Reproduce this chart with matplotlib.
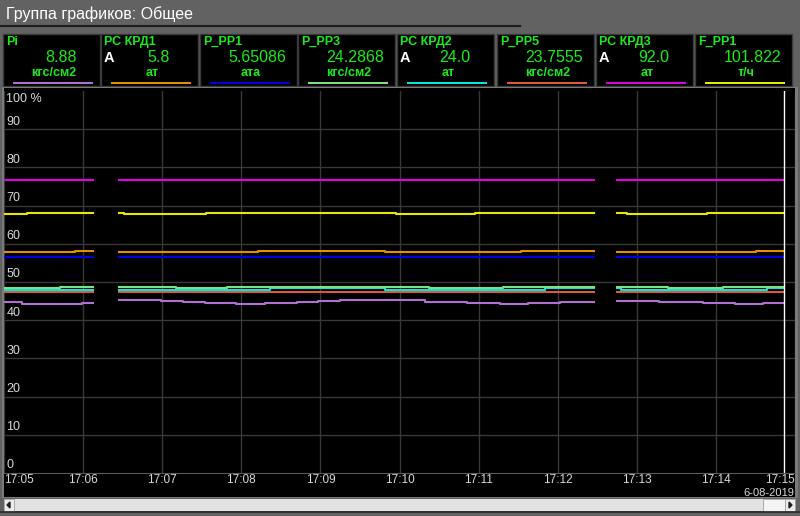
import numpy as np
import matplotlib.pyplot as plt
from matplotlib.patches import Rectangle

plt.rcParams['font.family'] = ['Liberation Sans', 'DejaVu Sans']

nan = np.nan

# Панели параметров
names = ['Pi', 'РС КРД1', 'P_PP1', 'P_PP3', 'РС КРД2', 'P_PP5', 'РС КРД3', 'F_PP1']
values_txt = ['8.88', '5.8', '5.65086', '24.2868', '24.0', '23.7555', '92.0', '101.822']
units = ['кгс/см2', 'ат', 'ата', 'кгс/см2', 'ат', 'кгс/см2', 'ат', 'т/ч']
auto = [False, True, False, False, True, False, True, False]
colors = ['#b070d0', '#e09000', '#0000e0', '#80e080', '#00e8e0', '#e05838', '#e000e0', '#e8e800']

# Время в минутах от 17:05, значения в % шкалы (ступеньки, nan = разрыв)
t_pi = [0, 0.23, 0.64, 0.99, 1.12,
        1.45, 1.98, 2.26, 2.54, 2.93, 3.30, 3.70, 3.97, 4.25, 5.32, 5.60, 5.85, 6.27, 6.62, 7.03, 7.29, 7.46,
        7.75, 8.28, 8.57, 8.84, 9.24, 9.60, 9.85]
v_pi = [44.7, 44.3, 44.2, 44.4, nan,
        45.2, 44.95, 44.7, 44.4, 44.2, 44.4, 44.7, 44.95, 45.2, 44.85, 44.7, 44.4, 44.25, 44.4, 44.7, 44.85, nan,
        45.1, 44.85, 44.7, 44.5, 44.3, 44.5, 44.5]

t_krd1 = [0, 0.90, 1.12, 1.45, 3.21, 4.82, 6.54, 7.46, 7.75, 9.51, 9.85]
v_krd1 = [57.93, 58.2, nan, 57.93, 58.2, 57.93, 58.2, nan, 57.93, 58.2, 58.2]

t_pp1 = [0, 1.12, 1.45, 7.46, 7.75, 9.85]
v_pp1 = [56.6, nan, 56.6, nan, 56.6, 56.6]

t_pp3 = [0, 0.71, 1.12, 1.45, 2.17, 2.82, 5.37, 6.31, 7.46, 7.75, 8.39, 9.09, 9.85]
v_pp3 = [48.3, 48.6, nan, 48.6, 48.3, 48.6, 48.3, 48.6, nan, 48.6, 48.3, 48.6, 48.6]

t_krd2 = [0, 1.12, 1.45, 3.36, 4.82, 6.84, 7.46, 7.75, 7.80, 9.65, 9.85]
v_krd2 = [48.0, nan, 48.0, 48.3, 48.0, 48.3, nan, 48.3, 48.0, 48.3, 48.3]

t_pp5 = [0, 1.12, 1.45, 7.46, 7.75, 9.85]
v_pp5 = [47.5, nan, 47.5, nan, 47.5, 47.5]

t_krd3 = [0, 1.12, 1.45, 7.46, 7.75, 9.85]
v_krd3 = [76.8, nan, 76.8, nan, 76.8, 76.8]

t_fpp1 = [0, 0.29, 1.12, 1.45, 1.52, 2.55, 4.96, 5.95, 7.46, 7.75, 7.87, 8.89, 9.85]
v_fpp1 = [67.8, 68.06, nan, 68.06, 67.8, 68.06, 67.8, 68.06, nan, 68.06, 67.8, 68.06, 68.06]

time_labels = ['17:05', '17:06', '17:07', '17:08', '17:09', '17:10',
               '17:11', '17:12', '17:13', '17:14', '17:15']
date_label = '6-08-2019'
cursor_t = 9.86

W, H = 800, 516
fig = plt.figure(figsize=(8, 5.16), dpi=100)
fig.patch.set_facecolor('#626262')

# фон и "окно" в пикселях
bg = fig.add_axes([0, 0, 1, 1])
bg.set_xlim(0, W)
bg.set_ylim(H, 0)
bg.axis('off')

bg.text(6, 14, 'Группа графиков: Общее', color='white', fontsize=11.5, va='center')
bg.plot([0, 520], [25.5, 25.5], color='#1c1c1c', lw=1.5)

green = '#18ec18'
px = [3, 101, 200, 298, 397, 497, 596, 695]
for i in range(len(names)):
    x0 = px[i]
    bg.add_patch(Rectangle((x0, 33.5), 97, 52, facecolor='black', edgecolor='#3a3a3a', lw=1))
    bg.text(x0 + 3, 42, names[i], color=green, fontsize=9, fontweight='bold', va='center')
    bg.text(x0 + 57.5, 57.5, values_txt[i], color=green, fontsize=11.5, ha='center', va='center')
    if auto[i]:
        bg.text(x0 + 3, 58, 'A', color='white', fontsize=10.5, fontweight='bold', va='center')
    bg.text(x0 + 51, 72.5, units[i], color=green, fontsize=9, fontweight='bold', ha='center', va='center')
    bg.add_patch(Rectangle((x0 + 10, 81.5), 80, 2.5, facecolor=colors[i], lw=0))

# область графика
bg.add_patch(Rectangle((1.5, 87), 796, 411, facecolor='#7a7a7a', lw=0))
bg.add_patch(Rectangle((4, 88), 791, 409, facecolor='black', lw=0))
bg.text(794, 492.5, date_label, color='#d8d8d8', fontsize=8, ha='right', va='center')
# полоса прокрутки
bg.add_patch(Rectangle((4, 499), 791, 12, facecolor='#e2e2e2', lw=0))
bg.add_patch(Rectangle((4, 499), 10, 12, facecolor='#ececec', edgecolor='#a0a0a0', lw=0.6))
bg.add_patch(Rectangle((763, 499), 22, 12, facecolor='#f4f4f4', edgecolor='#a0a0a0', lw=0.6))
bg.add_patch(Rectangle((785, 499), 10, 12, facecolor='#ececec', edgecolor='#a0a0a0', lw=0.6))
bg.fill([10, 7, 10], [502, 505, 508], color='#202020')
bg.fill([789, 792, 789], [502, 505, 508], color='#202020')
bg.plot([0, 800], [512, 512], color='#2a2a2a', lw=1.2)

ax = fig.add_axes([4 / W, (H - 473) / H, 791 / W, (473 - 91) / H])
ax.set_facecolor('black')
ax.set_xlim(0, 10)
ax.set_ylim(0, 100)
for s in ['top', 'left', 'right']:
    ax.spines[s].set_visible(False)
ax.spines['bottom'].set_color('#5a5a5a')
ax.set_yticks(range(10, 100, 10))
ax.set_yticklabels([])
ax.set_xticks(range(11))
ax.set_xticklabels(time_labels)
ax.tick_params(length=0, colors='#d8d8d8', labelsize=8.5, pad=0.5)
ax.tick_params(axis='y', left=False)
labels = ax.get_xticklabels()
labels[0].set_ha('left')
labels[-1].set_ha('right')
ax.grid(True, color='#383838', lw=1)
ax.set_axisbelow(True)

for v in range(10, 100, 10):
    ax.text(0.03, v + 0.4, str(v), color='#d8d8d8', fontsize=9, va='bottom')
ax.text(0.03, 99.6, '100 %', color='#d8d8d8', fontsize=9, va='top')
ax.text(0.03, 0.4, '0', color='#d8d8d8', fontsize=9, va='bottom')

series = [(t_pi, v_pi, colors[0]), (t_pp5, v_pp5, colors[5]), (t_krd2, v_krd2, colors[4]),
          (t_pp3, v_pp3, colors[3]), (t_pp1, v_pp1, colors[2]), (t_krd1, v_krd1, colors[1]),
          (t_fpp1, v_fpp1, colors[7]), (t_krd3, v_krd3, colors[6])]
for t, v, c in series:
    ax.step(t, v, where='post', color=c, lw=1.5)

ax.axvline(cursor_t, color='white', lw=1)

fig.savefig('out.png', dpi=100, facecolor=fig.get_facecolor())
